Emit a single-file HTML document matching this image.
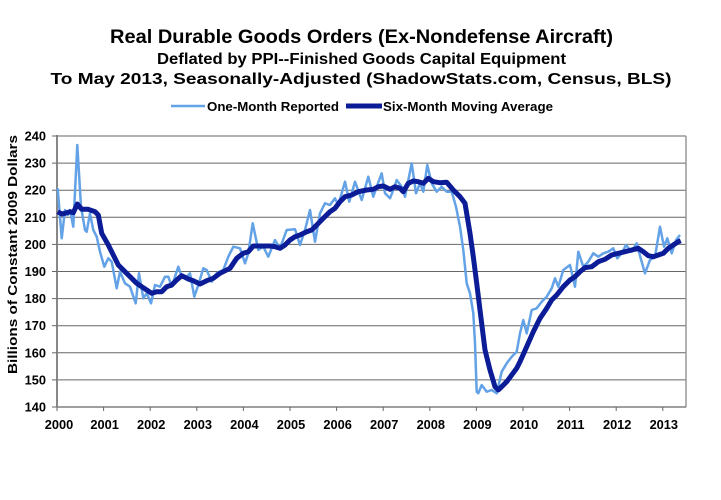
<!DOCTYPE html>
<html><head><meta charset="utf-8"><style>
html,body{margin:0;padding:0;background:#fff;}
svg{display:block;}
text{font-family:"Liberation Sans",Arial,sans-serif;font-weight:bold;fill:#000;}
</style></head><body>
<svg width="721" height="500" viewBox="0 0 721 500" xmlns="http://www.w3.org/2000/svg">
<rect width="721" height="500" fill="#fff"/>
<text x="361.5" y="43" font-size="19.5" text-anchor="middle" textLength="503" lengthAdjust="spacingAndGlyphs">Real Durable Goods Orders (Ex-Nondefense Aircraft)</text>
<text x="361.5" y="64" font-size="15.4" text-anchor="middle" textLength="409" lengthAdjust="spacingAndGlyphs">Deflated by PPI--Finished Goods Capital Equipment</text>
<text x="361" y="84" font-size="15.4" text-anchor="middle" textLength="621" lengthAdjust="spacingAndGlyphs">To May 2013, Seasonally-Adjusted (ShadowStats.com, Census, BLS)</text>
<line x1="171" y1="106" x2="205" y2="106" stroke="#63a2e6" stroke-width="2.5"/>
<text x="207" y="111" font-size="12.5" textLength="132" lengthAdjust="spacingAndGlyphs">One-Month Reported</text>
<line x1="346" y1="106" x2="382" y2="106" stroke="#0b1c96" stroke-width="5"/>
<text x="383" y="111" font-size="12.5" textLength="170" lengthAdjust="spacingAndGlyphs">Six-Month Moving Average</text>
<g stroke="#666" stroke-width="1">
<line x1="57" y1="136" x2="686" y2="136"/>
<line x1="57" y1="163.1" x2="686" y2="163.1"/>
<line x1="57" y1="190.2" x2="686" y2="190.2"/>
<line x1="57" y1="217.3" x2="686" y2="217.3"/>
<line x1="57" y1="244.4" x2="686" y2="244.4"/>
<line x1="57" y1="271.5" x2="686" y2="271.5"/>
<line x1="57" y1="298.6" x2="686" y2="298.6"/>
<line x1="57" y1="325.7" x2="686" y2="325.7"/>
<line x1="57" y1="352.8" x2="686" y2="352.8"/>
<line x1="57" y1="379.9" x2="686" y2="379.9"/>
</g>
<line x1="686" y1="136" x2="686" y2="407" stroke="#999" stroke-width="1.5"/>
<line x1="57" y1="407" x2="686" y2="407" stroke="#666" stroke-width="1.3"/>
<line x1="57" y1="135" x2="57" y2="407" stroke="#888" stroke-width="2"/>
<g stroke="#666" stroke-width="1">
<line x1="52" y1="136" x2="57" y2="136"/><line x1="52" y1="163.1" x2="57" y2="163.1"/><line x1="52" y1="190.2" x2="57" y2="190.2"/><line x1="52" y1="217.3" x2="57" y2="217.3"/><line x1="52" y1="244.4" x2="57" y2="244.4"/><line x1="52" y1="271.5" x2="57" y2="271.5"/><line x1="52" y1="298.6" x2="57" y2="298.6"/><line x1="52" y1="325.7" x2="57" y2="325.7"/><line x1="52" y1="352.8" x2="57" y2="352.8"/><line x1="52" y1="379.9" x2="57" y2="379.9"/><line x1="52" y1="407" x2="57" y2="407"/>
<line x1="57" y1="407" x2="57" y2="411"/><line x1="103.6" y1="407" x2="103.6" y2="411"/><line x1="150.2" y1="407" x2="150.2" y2="411"/><line x1="196.8" y1="407" x2="196.8" y2="411"/><line x1="243.4" y1="407" x2="243.4" y2="411"/><line x1="290" y1="407" x2="290" y2="411"/><line x1="336.6" y1="407" x2="336.6" y2="411"/><line x1="383.2" y1="407" x2="383.2" y2="411"/><line x1="429.8" y1="407" x2="429.8" y2="411"/><line x1="476.4" y1="407" x2="476.4" y2="411"/><line x1="523" y1="407" x2="523" y2="411"/><line x1="569.6" y1="407" x2="569.6" y2="411"/><line x1="616.2" y1="407" x2="616.2" y2="411"/><line x1="662.8" y1="407" x2="662.8" y2="411"/>
</g>
<g font-size="12.8" text-anchor="end">
<text x="46" y="140.5">240</text><text x="46" y="167.6">230</text><text x="46" y="194.7">220</text><text x="46" y="221.8">210</text><text x="46" y="248.9">200</text><text x="46" y="276">190</text><text x="46" y="303.1">180</text><text x="46" y="330.2">170</text><text x="46" y="357.3">160</text><text x="46" y="384.4">150</text><text x="46" y="411.5">140</text>
</g>
<g font-size="12.8" text-anchor="middle">
<text x="59" y="429">2000</text><text x="104.6" y="429">2001</text><text x="151.2" y="429">2002</text><text x="197.8" y="429">2003</text><text x="244.4" y="429">2004</text><text x="291" y="429">2005</text><text x="337.6" y="429">2006</text><text x="384.2" y="429">2007</text><text x="430.8" y="429">2008</text><text x="477.4" y="429">2009</text><text x="524" y="429">2010</text><text x="570.6" y="429">2011</text><text x="617.2" y="429">2012</text><text x="663.8" y="429">2013</text>
</g>
<text transform="translate(17,254.5) rotate(-90)" font-size="12.5" text-anchor="middle" textLength="239" lengthAdjust="spacingAndGlyphs">Billions of Constant 2009 Dollars</text>
<polyline fill="none" stroke="#63a2e6" stroke-width="2.5" stroke-linejoin="round" points="57.7,188.3 61.7,238.3 65,210 67.7,215 70,210 73.3,226.7 77.3,145 81,206.7 85,230 86.7,231.7 90,213.3 93.3,230 96.7,236.7 100,251.7 104.3,266.7 108.3,258.3 111.7,261.7 116.7,288.3 120,271.7 125,283.3 130,286.7 135.7,303.3 139,273.3 143.3,298.3 146.7,293.3 151,303.3 155,285 160,286.7 165,276.7 168.3,276.7 171.7,286.7 178.3,266.7 181.7,276.7 186.7,276.7 190,273.3 194.3,296.7 198.3,285 203.3,268.3 206.7,270 211.7,281.7 216.7,273.3 223.3,270 228.3,256.7 233.3,246.7 240,248.3 245,263.3 248.3,253.3 252.7,223.3 258.3,250 263.3,246.7 268.3,256.7 275,240 280,248.3 286.7,230 295,229.3 300,245 305,230 310,210 315,241.7 320,213.3 325,203.3 330,205 335,198.3 338.3,205 345,181.7 349.3,201.7 355,181.7 361.7,200 368.3,176.7 373.3,196.7 376.7,186.7 381.7,173.3 385,193.3 390,198.3 393.3,190 396.7,180 401.7,186.7 405,196.7 411.7,163.3 416,193.3 420,183.3 423.3,191.7 427.3,165 431.7,183.3 436.7,191.7 441.7,186.7 446.7,191.7 451.7,191.7 456,206.7 460,226.7 463.3,250 466.7,283.3 470,293.3 473.3,313.3 475,343.3 476.7,391.7 478.3,393.3 481.7,385 486.7,391.7 491.7,390 496.7,393.3 501.7,371.7 506.7,363.3 511.7,356.7 516.7,351.7 520,333.3 523.3,320 526.7,333.3 531.7,310 536.7,308.3 541.7,301.7 546.7,296.7 551.7,288.3 555,278.3 558.3,286.7 563.3,270 570,265 575,286.7 578.3,251.7 583.3,266.7 588.3,261.7 593.3,253.3 598.3,256.7 603.3,253.3 608.3,251.7 613.3,248.3 617.3,258.3 621.7,253.3 626,245 631.7,251.7 636.7,243.3 640.7,258.3 645,273.3 650,260 655,256.7 660,226.7 664,246.7 667.3,238.3 671.7,253.3 676,240 680,235"/>
<polyline fill="none" stroke="#0b1c96" stroke-width="5" stroke-linejoin="round" points="57.7,211.7 61.7,214 65,213.3 70,211.7 73.3,212.7 77.3,204 81.7,209.3 88.3,209.3 95,211.7 98.3,215 101.7,233.3 108.3,245 113.3,255 118.3,265 125,271.7 131.7,278.3 136.7,283.3 141.7,286.7 146.7,290 151.7,293.3 156.7,291.7 161.7,291.7 166.7,286.7 171.7,285 176.7,280 181.7,275.7 188.3,279 193.3,280.7 200,284 206.7,280.7 213.3,278.3 220,273.3 230,268.3 236.7,258.3 243.3,253.3 248.3,251.7 253.3,246 270,246 275,246.7 280,248.3 285,245 290,240 295,236.7 300,235 306.7,231.7 311.7,230 316.7,225 323.3,218.3 330,211.7 335,208.3 340,201.7 345,196.7 351.7,195 358.3,191.7 366.7,190 373.3,189.3 378.3,186.7 383.3,186 390,189.3 395,186.7 400,188.3 403.3,191.7 408.3,183.3 413.3,181 418.3,181.7 423.3,183.3 428.3,178.3 433.3,181.7 440,182.7 446.7,182.3 453.3,190 460,196.7 465,203.3 470,233.3 473.3,256.7 476.7,283.3 480,310 485,350 490,370 495,386.7 498.3,390 501.7,386.7 506.7,381.7 511.7,375 516.7,368.3 520,361.7 526.7,346.7 533.3,331.7 540,318.3 546.7,308.3 551.7,300 556.7,295 563.3,286.7 570,280 575,276.7 580,271.7 585,267.7 591.7,266.7 598.3,261.7 605,259.3 611.7,255 618.3,253.3 625,251.7 631.7,250 638.3,248.3 643.3,251.7 648.3,255.7 653.3,256.7 658.3,255 663.3,253.3 668.3,248.3 673.3,245 678.3,241.7 680.7,240.7"/>
</svg>
</body></html>
